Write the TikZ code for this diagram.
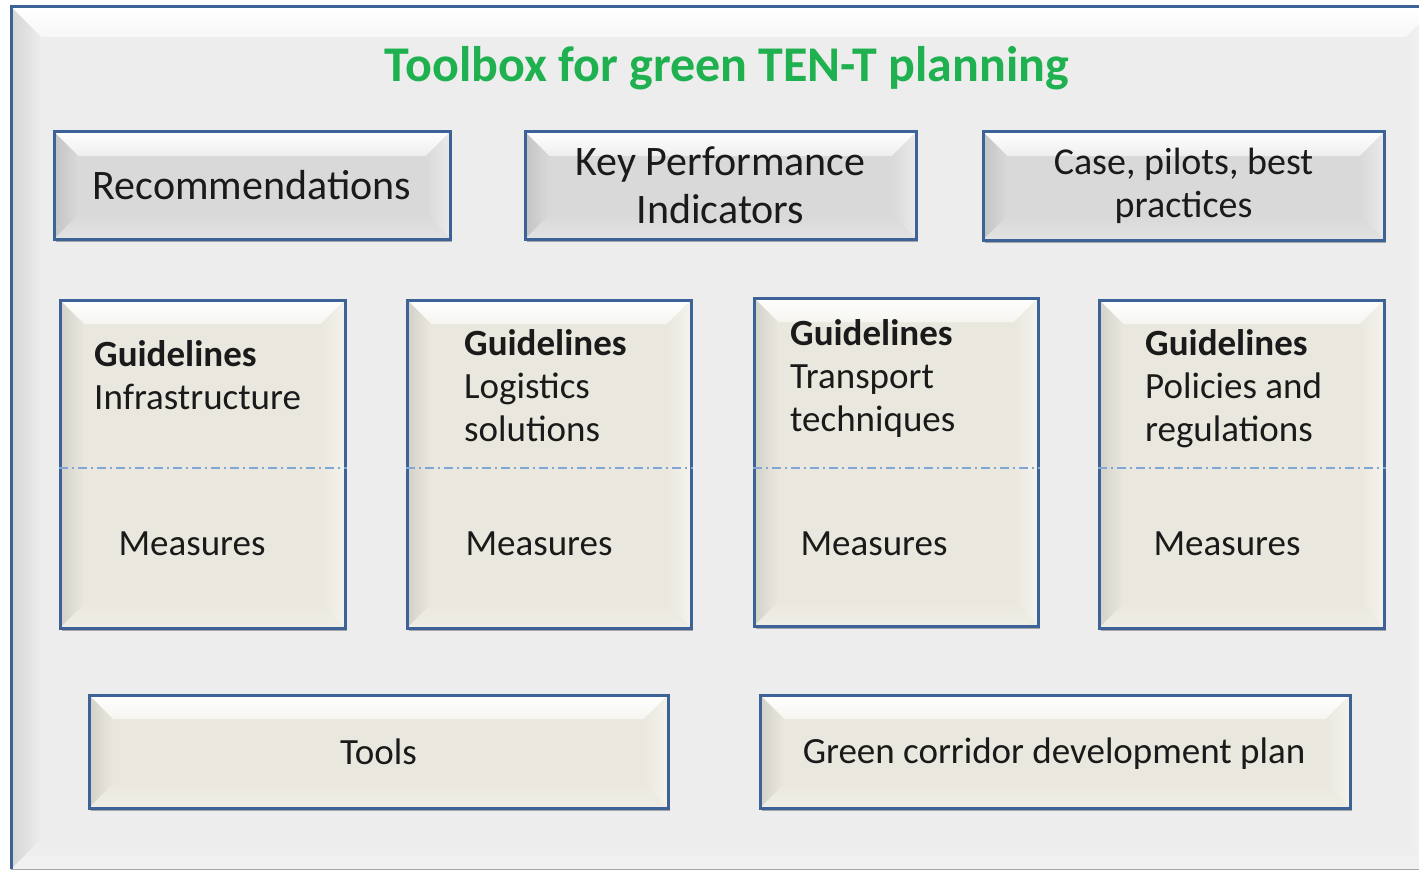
\documentclass[tikz,border=0pt]{standalone}
\usepackage{fontspec}
\setmainfont{Carlito}
\usetikzlibrary{shadows}
\definecolor{framecol}{HTML}{3C6298}
\definecolor{outerfill}{HTML}{EDEDED}
\definecolor{grayfill}{HTML}{D9D9D9}
\definecolor{beigefill}{HTML}{EAE8DE}
\definecolor{titlegreen}{HTML}{1FB14F}
\definecolor{divcol}{HTML}{7FA6D4}
\definecolor{txt}{HTML}{1A1A1A}
\tikzset{
  bevel/.style 2 args={path picture={
    \coordinate (NW) at (path picture bounding box.north west);
    \coordinate (NE) at (path picture bounding box.north east);
    \coordinate (SW) at (path picture bounding box.south west);
    \coordinate (SE) at (path picture bounding box.south east);
    \shade[top color=white,bottom color=#2!45!white] (NW) -- (NE) -- ([shift={(-#1,-#1)}]NE) -- ([shift={(#1,-#1)}]NW) -- cycle;
    \shade[left color=#2!90!black,right color=#2] (NW) -- ([shift={(#1,-#1)}]NW) -- ([shift={(#1,#1)}]SW) -- (SW) -- cycle;
    \shade[left color=#2,right color=#2!55!white] (NE) -- (SE) -- ([shift={(-#1,#1)}]SE) -- ([shift={(-#1,-#1)}]NE) -- cycle;
    \shade[top color=#2,bottom color=#2!75!white] (SW) -- (SE) -- ([shift={(-#1,#1)}]SE) -- ([shift={(#1,#1)}]SW) -- cycle;
  }},
  basebox/.style={draw=framecol,line width=3pt,rectangle,inner sep=0pt,
    drop shadow={shadow xshift=2pt,shadow yshift=-3pt,opacity=.3,fill=black},
    text=txt,font=\fontsize{37}{45}\selectfont,align=center},
  graybox/.style={basebox,fill=grayfill,bevel={24pt}{grayfill}},
  beigebox/.style={basebox,fill=beigefill,bevel={24pt}{beigefill}},
  lbl/.style={text=txt,font=\fontsize{37}{43}\selectfont,inner sep=0pt},
  divider/.style={draw=divcol,line width=1.2pt,dash pattern=on 9pt off 4pt on 2pt off 4pt},
}
\begin{document}
\begin{tikzpicture}[x=1pt,y=-1pt]
\useasboundingbox (0,0) rectangle (1419,872);
\clip (0,0) rectangle (1419,872);
\fill[white] (0,0) rectangle (1419,872);
% outer frame
\node[fill=outerfill,minimum width=1425pt,minimum height=862pt,inner sep=0pt,bevel={30pt}{outerfill},anchor=north west] (frame) at (11,7) {};
\draw[framecol,line width=3pt] (frame.south west) -- (frame.north west) -- (frame.north east);
\draw[black!35,line width=1pt] (frame.south west) -- (frame.south east);
\node[font=\fontsize{50}{58}\selectfont\bfseries,text=titlegreen] (title) at (727,68) {Toolbox for green TEN-T planning};
% top row
\node[graybox,minimum width=396pt,minimum height=107pt,font=\fontsize{42}{48}\selectfont] (rec) at (252,185.5) {Recommendations};
\node[graybox,minimum width=391pt,minimum height=107pt,font=\fontsize{42}{48}\selectfont] (kpi) at (720.5,185.5) {Key Performance\\Indicators};
\node[graybox,minimum width=401pt,minimum height=108pt,font=\fontsize{38}{43}\selectfont] (case) at (1183.5,186) {Case, pilots, best\\practices};
% guideline boxes
\node[beigebox,minimum width=285pt,minimum height=328pt] (g1) at (202.5,464) {};
\node[beigebox,minimum width=284pt,minimum height=328pt] (g2) at (549,464) {};
\node[beigebox,minimum width=284pt,minimum height=328pt] (g3) at (896,462) {};
\node[beigebox,minimum width=285pt,minimum height=328pt] (g4) at (1241.5,464) {};
\draw[divider] (g1.west |- 0,468) -- (g1.east |- 0,468);
\draw[divider] (g2.west |- 0,468) -- (g2.east |- 0,468);
\draw[divider] (g3.west |- 0,468) -- (g3.east |- 0,468);
\draw[divider] (g4.west |- 0,468) -- (g4.east |- 0,468);
\node[lbl,anchor=west,align=left] (t1) at (94,375.5) {\textbf{Guidelines}\\Infrastructure};
\node[lbl,anchor=west,align=left] (t2) at (464,386) {\textbf{Guidelines}\\Logistics\\solutions};
\node[lbl,anchor=west,align=left] (t3) at (790,378) {\textbf{Guidelines}\\Transport\\techniques};
\node[lbl,anchor=west,align=left] (t4) at (1145,389) {\textbf{Guidelines}\\Policies and\\regulations};
\node[lbl] (m1) at (192,544) {Measures};
\node[lbl] (m2) at (539,544) {Measures};
\node[lbl] (m3) at (874,544) {Measures};
\node[lbl] (m4) at (1227,544) {Measures};
% bottom row
\node[beigebox,minimum width=579pt,minimum height=113pt] (tools) at (378.5,751.5) {Tools};
\node[beigebox,minimum width=590pt,minimum height=113pt] (gcdp) at (1055,751.5) {};
\node[lbl] (gcdpt) at (1054,754) {Green corridor development plan};
\end{tikzpicture}
\end{document}
